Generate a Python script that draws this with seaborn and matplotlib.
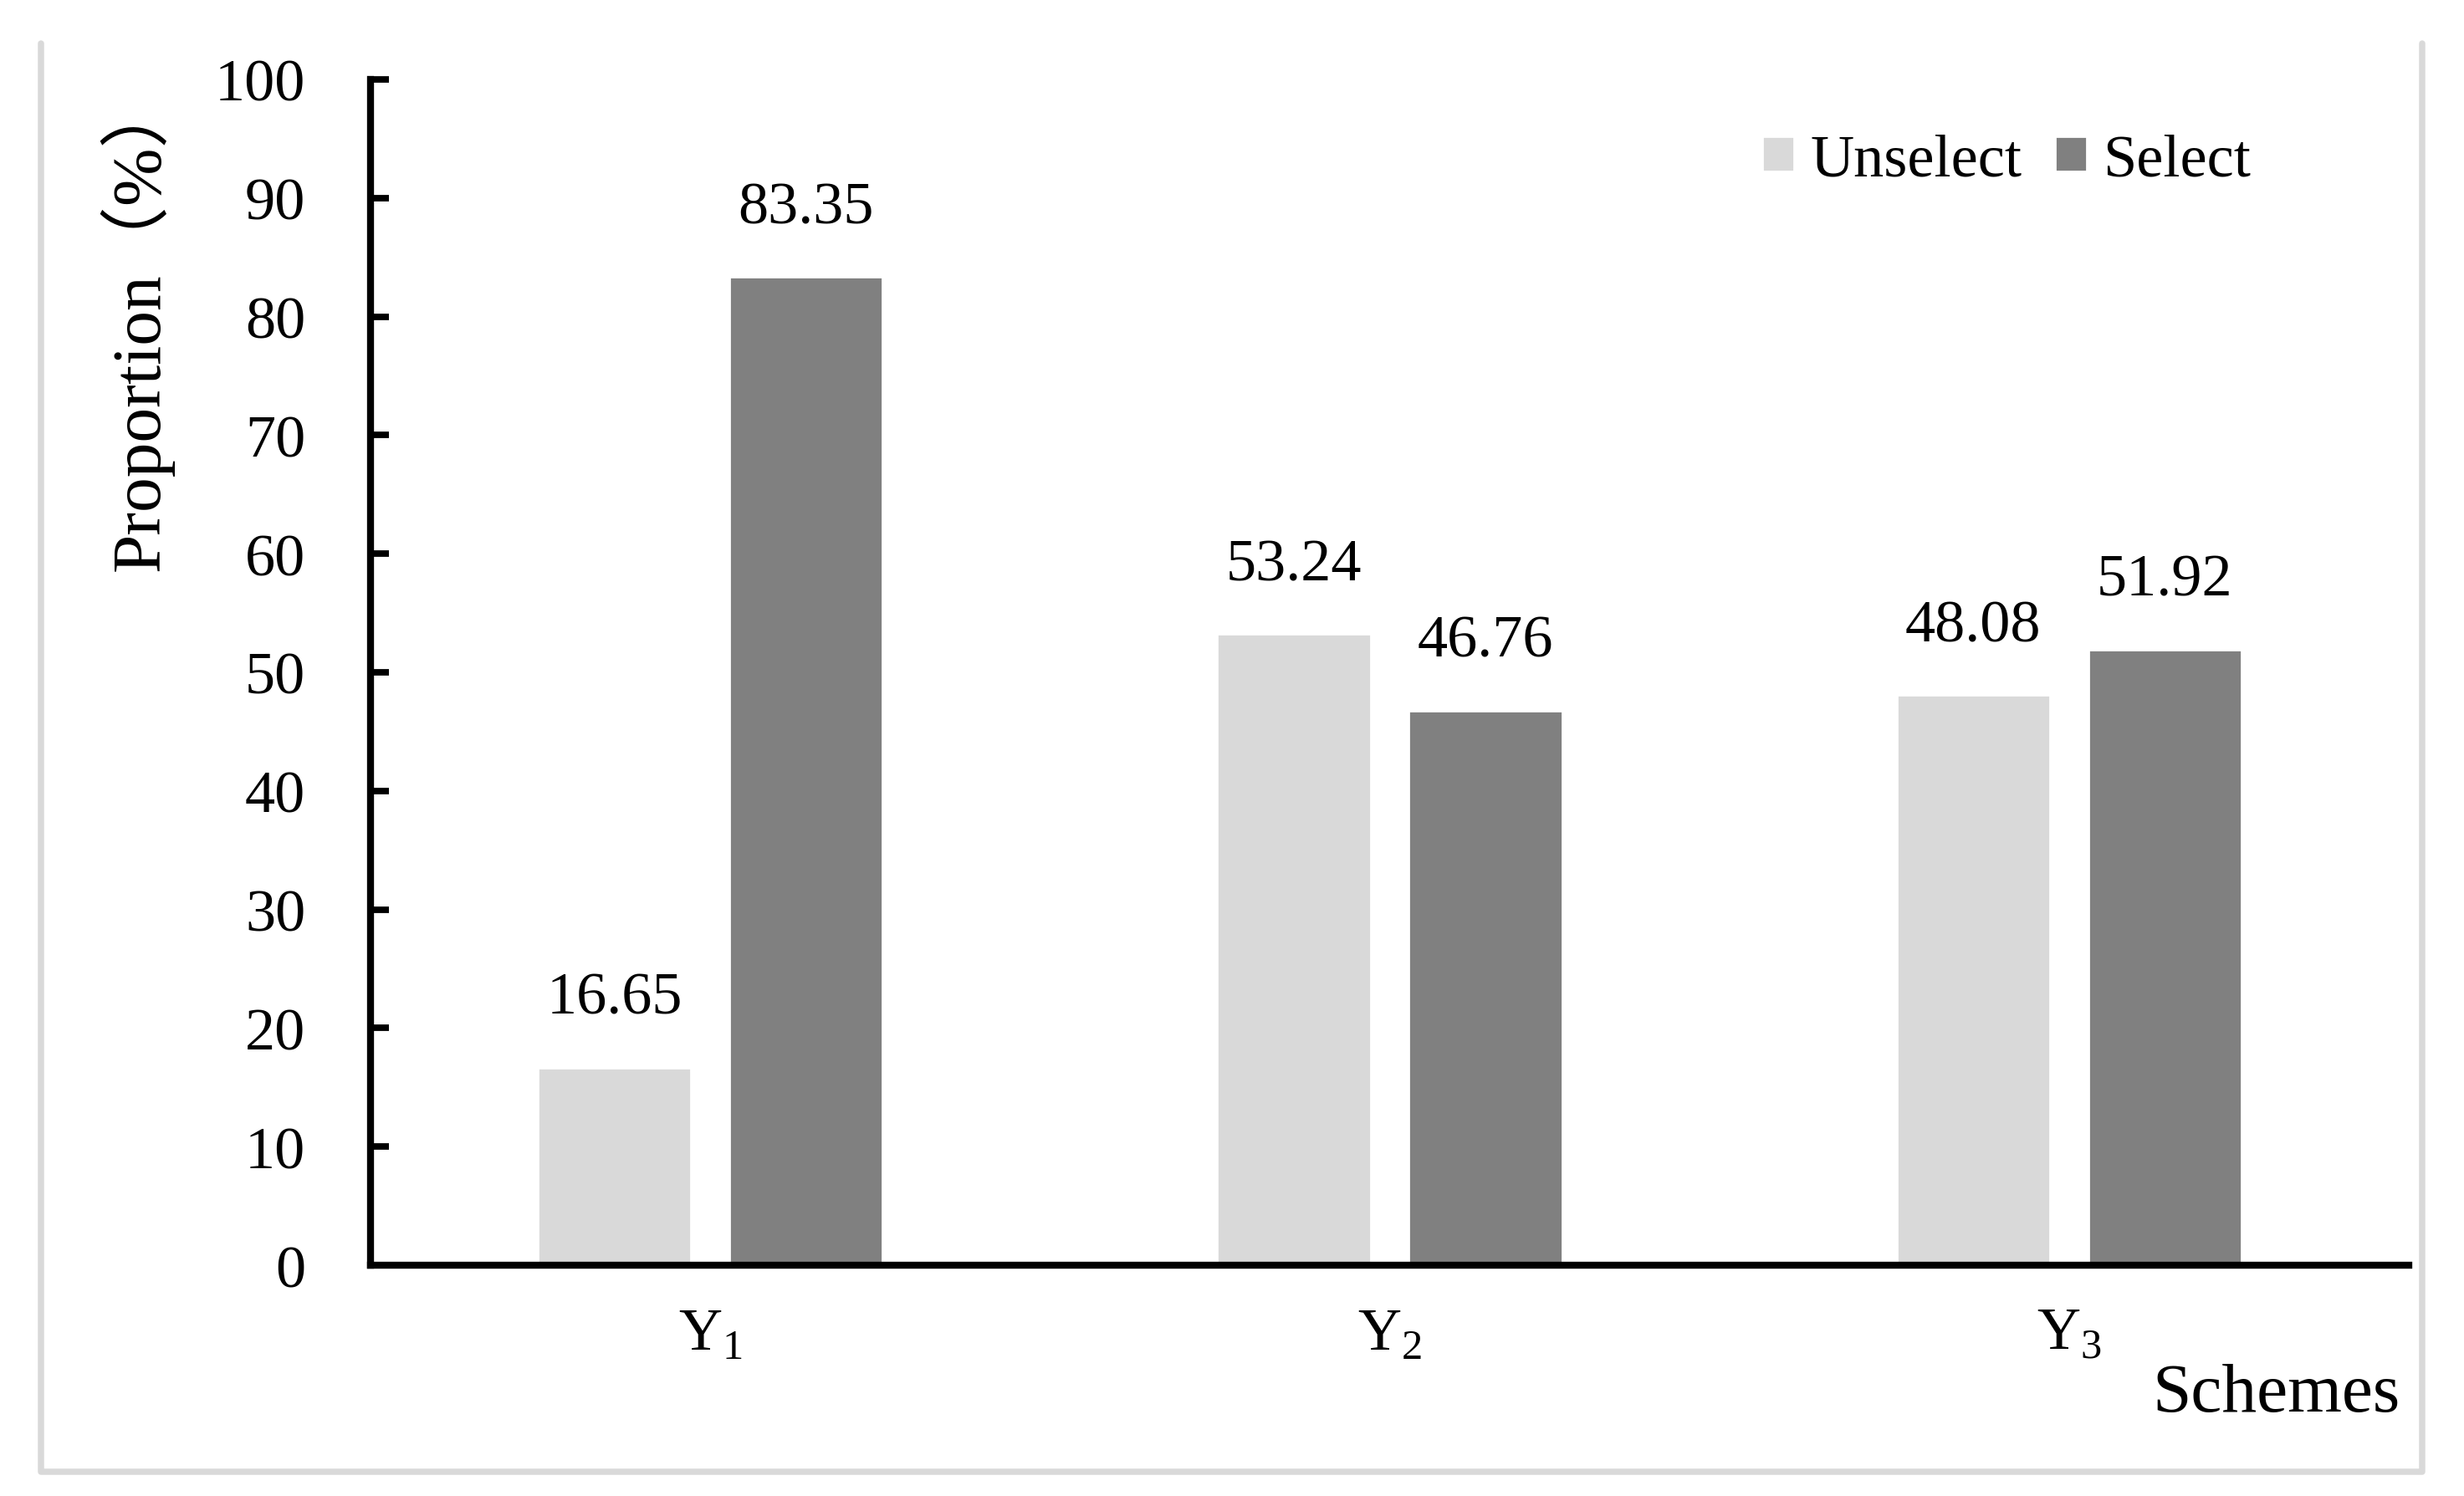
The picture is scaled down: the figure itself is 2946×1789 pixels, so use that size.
import matplotlib
matplotlib.use("Agg")
import matplotlib.pyplot as plt
from matplotlib.lines import Line2D
import numpy as np
import pandas as pd
import seaborn as sns

# data
schemes = ["Y1", "Y2", "Y3"]
scheme_labels = [r"Y$_\mathregular{1}$", r"Y$_\mathregular{2}$", r"Y$_\mathregular{3}$"]
unselect = [16.65, 53.24, 48.08]
select = [83.35, 46.76, 51.92]
groups = ["Unselect", "Select"]
colors = ["#d9d9d9", "#808080"]
yticks = list(range(0, 101, 10))

df = pd.DataFrame({
    "scheme": schemes * 2,
    "value": unselect + select,
    "group": [groups[0]] * 3 + [groups[1]] * 3,
})

sns.set_style("white")
plt.rcParams["font.family"] = ["Liberation Serif", "Noto Sans CJK SC"]
plt.rcParams["mathtext.fontset"] = "custom"
plt.rcParams["mathtext.rm"] = "Liberation Serif"
plt.rcParams["text.color"] = "black"
plt.rcParams["axes.labelcolor"] = "black"
plt.rcParams["xtick.color"] = "black"
plt.rcParams["ytick.color"] = "black"

W, H, DPI = 2946, 1790, 200
fig = plt.figure(figsize=(W / DPI, H / DPI), dpi=DPI)
ax = fig.add_axes([443 / W, 1 - 1514 / H, (2880 - 443) / W, (1514 - 96) / H])

sns.barplot(data=df, x="scheme", y="value", hue="group", hue_order=groups,
            palette=colors, width=0.564, gap=0.2, errorbar=None,
            saturation=1, ax=ax)

for cont in ax.containers:
    ax.bar_label(cont, fmt="%.2f", padding=18, fontsize=26, color="black")

ax.set_xlim(-0.5, 2.5)
ax.set_ylim(0, 100)
ax.set_yticks(yticks)
ax.set_xticks(range(len(schemes)))
ax.set_xticklabels(scheme_labels)
ax.tick_params(axis="y", left=True, direction="in", length=8, width=2.8, pad=28,
               labelsize=26, colors="black")
ax.tick_params(axis="x", bottom=False, length=0, pad=18, labelsize=26, colors="black")

for side in ["top", "right"]:
    ax.spines[side].set_visible(False)
for side in ["left", "bottom"]:
    ax.spines[side].set_linewidth(3)
    ax.spines[side].set_color("black")

ax.set_xlabel("")
ax.set_ylabel("Proportion（%）", fontsize=30, color="black")
ax.yaxis.set_label_coords(-0.0964, 0.795)

fig.text(2870 / W, 1 - 1688 / H, "Schemes", ha="right", va="baseline", fontsize=30)

handles, labels = ax.get_legend_handles_labels()
ax.get_legend().remove()
fig.legend(handles, labels, loc="center left", bbox_to_anchor=(2107 / W, 1 - 193 / H),
           ncol=2, frameon=False, fontsize=26, handlelength=0.53, handleheight=0.53,
           handletextpad=0.26, columnspacing=0.55, borderpad=0, borderaxespad=0)

# light grey frame around the figure
px = np.array([49, 49, 2896, 2896])
py = np.array([53, 1761, 1761, 53])
fig.add_artist(Line2D(px / W, 1 - py / H, color="#d9d9d9", linewidth=2.7,
                      transform=fig.transFigure))

fig.savefig("out.png", dpi=DPI)
